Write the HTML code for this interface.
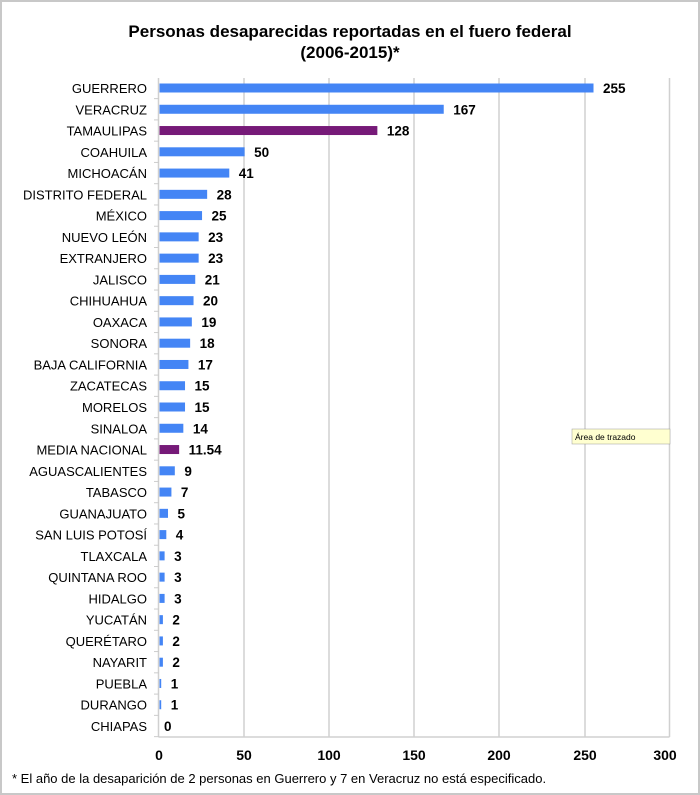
<!DOCTYPE html>
<html><head><meta charset="utf-8"><style>
body{margin:0;background:#fff;}
.f{position:absolute;left:0;top:0;width:696px;height:791px;border:2px solid #c8c8c8;}
text{font-family:"Liberation Sans",Arial,sans-serif;}
</style></head><body>
<div class="f"></div>
<svg width="700" height="795" style="position:absolute;left:0;top:0">
<text x="350" y="37" font-size="17" font-weight="bold" text-anchor="middle">Personas desaparecidas reportadas en el fuero federal</text>
<text x="350" y="58" font-size="17" font-weight="bold" text-anchor="middle">(2006-2015)*</text>
<g stroke="#d0d0d0" stroke-width="1.5">
<line x1="244" y1="78" x2="244" y2="737"/><line x1="329" y1="78" x2="329" y2="737"/>
<line x1="414" y1="78" x2="414" y2="737"/><line x1="499" y1="78" x2="499" y2="737"/>
<line x1="585" y1="78" x2="585" y2="737"/><line x1="669.5" y1="78" x2="669.5" y2="737"/>
<line x1="158.5" y1="737" x2="669.5" y2="737"/>
<line x1="158.5" y1="78" x2="158.5" y2="737"/>
</g>
<g id="bars"></g>
<g font-size="14" font-weight="bold" text-anchor="middle">
<text x="159" y="760">0</text><text x="244" y="760">50</text><text x="329" y="760">100</text>
<text x="414" y="760">150</text><text x="499" y="760">200</text><text x="585" y="760">250</text><text x="665" y="760">300</text>
</g>
<text x="12" y="783" font-size="13">* El año de la desaparición de 2 personas en Guerrero y 7 en Veracruz no está especificado.</text>
<rect x="572" y="429" width="98" height="15" fill="#ffffd0" stroke="#999" stroke-width="0.5"/>
<text x="575" y="440" font-size="8.5">Área de trazado</text>
</svg>
<script>
const d=[["GUERRERO",255],["VERACRUZ",167],["TAMAULIPAS",128,1],["COAHUILA",50],["MICHOACÁN",41],["DISTRITO FEDERAL",28],["MÉXICO",25],["NUEVO LEÓN",23],["EXTRANJERO",23],["JALISCO",21],["CHIHUAHUA",20],["OAXACA",19],["SONORA",18],["BAJA CALIFORNIA",17],["ZACATECAS",15],["MORELOS",15],["SINALOA",14],["MEDIA NACIONAL",11.54,1],["AGUASCALIENTES",9],["TABASCO",7],["GUANAJUATO",5],["SAN LUIS POTOSÍ",4],["TLAXCALA",3],["QUINTANA ROO",3],["HIDALGO",3],["YUCATÁN",2],["QUERÉTARO",2],["NAYARIT",2],["PUEBLA",1],["DURANGO",1],["CHIAPAS",0]];
let s="";const k=1.702;const p=(726-88)/30;
d.forEach((r,i)=>{const y=88+i*p;const w=r[1]*k;
s+=`<text x="147" y="${y+5}" font-size="13" text-anchor="end">${r[0]}</text>`;
s+=`<line x1="154" y1="${y+p/2}" x2="159" y2="${y+p/2}" stroke="#ccc"/>`;
if(w>0)s+=`<rect x="159.5" y="${y-4.5}" width="${w}" height="9" fill="${r[2]?'#761a78':'#4485f5'}"/>`;
s+=`<text x="${159+w+(w>0?10:5)}" y="${y+5}" font-size="13.5" font-weight="bold">${r[1]}</text>`;});
document.getElementById("bars").innerHTML=s;
</script>
</body></html>
